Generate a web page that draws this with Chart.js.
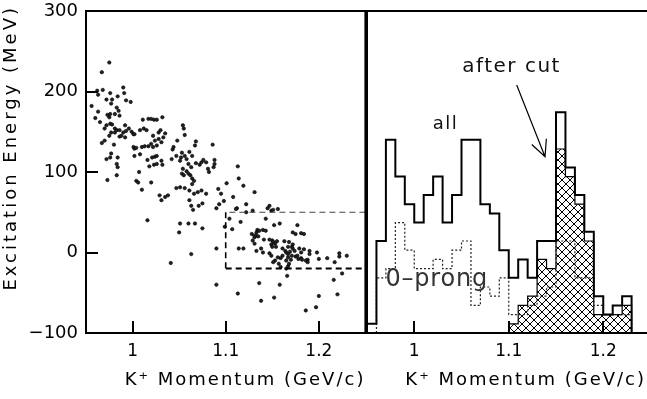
<!DOCTYPE html>
<html>
<head>
<meta charset="utf-8">
<script src="https://cdn.jsdelivr.net/npm/chart.js@4.4.1/dist/chart.umd.min.js"></script>
<style>
  html, body { margin: 0; padding: 0; background: #fff; overflow: hidden; }
  #wrap { position: relative; width: 647px; height: 399px; overflow: hidden; }
  #left { position: absolute; left: 0; top: 0; }
  #right { position: absolute; left: 366px; top: 0; }
</style>
</head>
<body>
<div id="wrap">
  <canvas id="left" width="370" height="399"></canvas>
  <canvas id="right" width="288" height="399"></canvas>
</div>
<script>
const FONT = "'DejaVu Sans', sans-serif";

// left panel: K+ momentum (GeV/c) vs excitation energy (MeV), one entry per event
const pMom = [
  0.975, 0.967, 0.962, 0.968, 0.990, 0.991, 0.976, 0.984, 0.956, 0.963,
  0.960, 0.965, 0.963, 0.978, 0.972, 0.977, 0.993, 0.998, 0.983, 0.985,
  0.981, 0.986, 0.973, 0.976, 0.975, 0.972, 0.970, 0.976, 0.978, 0.981,
  0.981, 0.983, 0.986, 0.977, 0.975, 0.992, 0.996, 0.990, 0.993, 0.999,
  1.001, 1.002, 0.986, 0.988, 0.992, 0.970, 0.967, 0.980, 0.972, 0.976,
  0.977, 0.984, 0.983, 0.984, 0.983, 0.973, 1.001, 1.002, 1.004, 1.002,
  1.008, 1.007, 1.004, 1.006, 1.010, 1.020, 1.011, 1.017, 1.020, 1.023,
  1.026, 1.032, 1.012, 1.008, 1.015, 1.010, 1.013, 1.017, 1.022, 1.024,
  1.028, 1.031, 1.033, 1.035, 1.028, 1.030, 1.020, 1.026, 1.022, 1.016,
  1.021, 1.024, 1.026, 1.018, 1.023, 1.026, 1.032, 1.031, 1.042, 1.044,
  1.043, 1.047, 1.051, 1.052, 1.053, 1.056, 1.058, 1.054, 1.055, 1.056,
  1.048, 1.068, 1.067, 1.061, 1.064, 1.068, 1.060, 1.063, 1.072, 1.074,
  1.076, 1.079, 1.086, 1.088, 1.088, 1.087, 1.081, 1.082, 1.054, 1.053,
  1.055, 1.058, 1.060, 1.062, 1.064, 1.066, 1.064, 1.047, 1.051, 1.056,
  1.061, 1.066, 1.070, 1.074, 1.079, 1.092, 1.095, 1.101, 1.108, 1.113,
  1.114, 1.119, 1.131, 1.038, 1.029, 1.035,
  1.031, 1.063, 1.065, 1.071, 1.075, 1.061, 1.090, 1.093, 1.098, 1.112,
  1.122, 1.129, 1.016, 1.051, 1.060, 1.067, 1.050, 1.075, 1.063, 1.041,
  1.090, 1.090, 1.099, 1.107, 1.104, 1.111, 1.116, 1.114, 1.119, 1.113,
  1.122, 1.133, 1.131, 1.129, 1.131, 1.133, 1.134, 1.136, 1.140, 1.143,
  1.143, 1.145, 1.147, 1.149, 1.151, 1.156, 1.136, 1.138, 1.152, 1.158,
  1.166, 1.186, 1.197, 1.200, 1.216, 1.220, 1.225, 1.217, 1.209, 1.200,
  1.198, 1.222, 1.222, 1.230, 1.190, 1.190, 1.188, 1.177, 1.172, 1.175,
  1.181, 1.184, 1.163, 1.168, 1.172, 1.167, 1.171, 1.179, 1.181, 1.184,
  1.161, 1.164, 1.165, 1.167, 1.169, 1.172, 1.174, 1.171, 1.175, 1.177,
  1.178, 1.181, 1.182, 1.186, 1.188, 1.167, 1.170, 1.165, 1.161, 1.159,
  1.156, 1.153, 1.151, 1.157, 1.159, 1.165, 1.167, 1.168, 1.150, 1.151,
  1.153, 1.155, 1.149, 1.150, 1.154, 1.147, 1.138, 1.140, 1.147, 1.149,
  1.128, 1.131, 1.133, 1.135, 1.152, 1.158, 1.141
];
const eExc = [
  236, 224, 201, 202, 205, 198, 198, 194, 182, 196,
  167, 162, 175, 190, 190, 185, 189, 187, 180, 176,
  172, 170, 171, 172, 168, 158, 154, 160, 159, 154,
  149, 152, 152, 149, 145, 158, 154, 149, 151, 150,
  147, 147, 144, 145, 143, 139, 136, 134, 116, 118,
  123, 118, 110, 106, 96, 90, 131, 129, 130, 120,
  122, 100, 89, 87, 78, 87, 165, 166, 166, 165,
  165, 168, 154, 152, 152, 131, 132, 132, 145, 139,
  141, 137, 143, 148, 149, 152, 135, 133, 131, 115,
  118, 119, 120, 107, 109, 110, 109, 114, 116, 131,
  128, 120, 114, 118, 124, 120, 116, 158, 154, 146,
  139, 138, 133, 125, 120, 111, 110, 106, 109, 112,
  115, 112, 134, 115, 110, 106, 104, 100, 104, 98,
  96, 101, 98, 96, 92, 89, 85, 80, 81, 80,
  77, 73, 75, 77, 73, 79, 73, 86, 69, 107,
  92, 83, 75, 71, 71, 69,
  65, 58, 53, 58, 61, 65, 55, 60, 64, 55,
  60, 52, 40, 36, 36, 36, 25, 30, -2, -13,
  5, -40, 32, 29, 42, 54, 38, 5, 5, -51,
  50, 2, 19, 15, 11, 25, 28, 27, 28, 27,
  42, 55, 58, 52, 53, 54, -38, -60, -56, -40,
  -29, -72, -68, -54, -34, -52, -26, -12, -7, -8,
  0, -1, -5, -4, 2, -2, -9, 34, 25, 23,
  24, 23, 14, 13, 10, 7, 7, 5, 0, 4,
  5, 2, 0, -2, 1, 5, 2, -4, -5, -4,
  -8, -7, -9, -10, -12, -6, -9, -10, -4, -7,
  -6, -10, -12, -14, -18, -20, -17, -14, 15, 13,
  11, 14, 10, 7, 7, 16, 5, 0, -1, -4,
  23, 21, 21, 20, 34, 36, 16
];

// right panel: histograms in 10 MeV/c bins
const binEdges = [
  0.95, 0.96, 0.97, 0.98, 0.99, 1.00, 1.01, 1.02, 1.03, 1.04,
  1.05, 1.06, 1.07, 1.08, 1.09, 1.10, 1.11, 1.12, 1.13, 1.14,
  1.15, 1.16, 1.17, 1.18, 1.19, 1.20, 1.21, 1.22, 1.23, 1.24, 1.25
];
const allCounts = [1, 10, 21, 17, 14, 12, 15, 17, 12, 15, 21, 21, 14, 13, 9, 6, 8, 6, 10, 10, 24, 18, 15, 11, 4, 2, 3, 4, 0, 0];
const zeroProngCounts = [0, 6, 7, 12, 9, 7, 7, 8, 7, 9, 10, 3, 5, 4, 6, 2, 2, 3, 4, 5, 10, 10, 6, 6, 3, 2, 2, 2, 0, 0];
const afterCutCounts = [0, 0, 0, 0, 0, 0, 0, 0, 0, 0, 0, 0, 0, 0, 0, 1, 3, 4, 8, 7, 20, 17, 14, 10, 2, 2, 2, 3, 0, 0];

const momTicks = [1, 1.1, 1.2];
const energyTicks = [-100, 0, 100, 200, 300];
const cutBox = { pMin: 1.10, eMin: -20, eMax: 50 };

let stepPoints = (counts) => {
  let first = counts.findIndex((c) => c > 0);
  let last = counts.length - 1;
  while (last > 0 && counts[last] === 0) last--;
  let pts = [{ x: binEdges[first], y: 0 }];
  for (let i = first; i <= last; i++) pts.push({ x: binEdges[i], y: counts[i] });
  pts.push({ x: binEdges[last + 1], y: 0 });
  return pts;
};

let hatchPattern = () => {
  const tile = document.createElement("canvas");
  tile.width = 8;
  tile.height = 8;
  const g = tile.getContext("2d");
  g.strokeStyle = "#000";
  g.lineWidth = 1;
  g.beginPath();
  g.moveTo(-1, -1); g.lineTo(9, 9);
  g.moveTo(9, -1); g.lineTo(-1, 9);
  g.stroke();
  return document.getElementById("right").getContext("2d").createPattern(tile, "repeat");
};

let spacedText = (ctx, str, x, y, size, spacing, align, rotate, color) => {
  ctx.save();
  ctx.translate(x, y);
  if (rotate) ctx.rotate(-Math.PI / 2);
  ctx.font = size + "px " + FONT;
  ctx.letterSpacing = spacing + "px";
  ctx.fillStyle = color || "#000";
  ctx.textAlign = align;
  ctx.textBaseline = "middle";
  ctx.fillText(str, 0, 0);
  ctx.restore();
};

let inwardTicks = (ctx, chart, withY) => {
  const a = chart.chartArea;
  const sx = chart.scales.x;
  ctx.save();
  ctx.strokeStyle = "#000";
  ctx.lineWidth = 2;
  ctx.beginPath();
  momTicks.forEach((v) => {
    let px = Math.round(sx.getPixelForValue(v));
    ctx.moveTo(px, a.bottom);
    ctx.lineTo(px, a.bottom - 12);
  });
  if (withY) {
    const sy = chart.scales.y;
    energyTicks.forEach((v) => {
      let py = Math.round(sy.getPixelForValue(v));
      ctx.moveTo(a.left, py);
      ctx.lineTo(a.left + 12, py);
    });
  }
  ctx.stroke();
  ctx.restore();
};

const leftDecor = {
  id: "leftDecor",
  afterDraw(chart) {
    const ctx = chart.ctx;
    const a = chart.chartArea;
    const sx = chart.scales.x;
    const sy = chart.scales.y;
    // dashed selection box
    let bx = sx.getPixelForValue(cutBox.pMin);
    let by0 = sy.getPixelForValue(cutBox.eMin);
    let by1 = sy.getPixelForValue(cutBox.eMax);
    ctx.save();
    ctx.setLineDash([6, 4]);
    ctx.strokeStyle = "#444";
    ctx.lineWidth = 1.2;
    ctx.beginPath();
    ctx.moveTo(a.right, by1);
    ctx.lineTo(bx, by1);
    ctx.stroke();
    ctx.strokeStyle = "#000";
    ctx.lineWidth = 1.6;
    ctx.beginPath();
    ctx.moveTo(bx, by1);
    ctx.lineTo(bx, by0);
    ctx.stroke();
    ctx.lineWidth = 2;
    ctx.beginPath();
    ctx.moveTo(bx, by0);
    ctx.lineTo(a.right, by0);
    ctx.stroke();
    ctx.restore();
    // frame
    ctx.save();
    ctx.strokeStyle = "#000";
    ctx.lineWidth = 2;
    ctx.strokeRect(a.left, a.top, a.right - a.left, a.bottom - a.top);
    ctx.restore();
    inwardTicks(ctx, chart, true);
    spacedText(ctx, "Excitation Energy (MeV)", 11, 5, 18, 3, "right", true);
    spacedText(ctx, "K\u207A Momentum (GeV/c)", a.right, 380, 18, 2, "right", false);
  },
};

const rightDecor = {
  id: "rightDecor",
  afterDraw(chart) {
    const ctx = chart.ctx;
    const a = chart.chartArea;
    const sx = chart.scales.x;
    const sy = chart.scales.y;
    ctx.save();
    ctx.strokeStyle = "#000";
    ctx.lineWidth = 2;
    ctx.beginPath();
    ctx.moveTo(a.right, a.top);
    ctx.lineTo(a.left, a.top);
    ctx.lineTo(a.left, a.bottom);
    ctx.lineTo(a.right, a.bottom);
    ctx.stroke();
    ctx.restore();
    inwardTicks(ctx, chart, false);

    // labels
    spacedText(ctx, "all", sx.getPixelForValue(1.033), sy.getPixelForValue(22.7), 18, 1.5, "center", false, "#111");
    spacedText(ctx, "after cut", sx.getPixelForValue(1.103), sy.getPixelForValue(28.9), 20, 1.5, "center", false, "#111");
    spacedText(ctx, "0\u2013prong", sx.getPixelForValue(1.0238), sy.getPixelForValue(5.8), 24, 0.8, "center", false, "#333");

    // arrow to the hatched peak
    let x0 = sx.getPixelForValue(1.1084), y0 = sy.getPixelForValue(26.96);
    let x1 = sx.getPixelForValue(1.1384), y1 = sy.getPixelForValue(19.16);
    let ang = Math.atan2(y1 - y0, x1 - x0);
    ctx.save();
    ctx.strokeStyle = "#000";
    ctx.lineWidth = 1.2;
    ctx.beginPath();
    ctx.moveTo(x0, y0);
    ctx.lineTo(x1, y1);
    ctx.moveTo(x1 - 18 * Math.cos(ang - 0.45), y1 - 18 * Math.sin(ang - 0.45));
    ctx.lineTo(x1, y1);
    ctx.lineTo(x1 - 18 * Math.cos(ang + 0.45), y1 - 18 * Math.sin(ang + 0.45));
    ctx.stroke();
    ctx.restore();
    spacedText(ctx, "K\u207A Momentum (GeV/c)", 280, 380, 18, 2, "right", false);
  },
};

let axisX = () => ({
  type: "linear",
  min: 0.95,
  max: 1.25,
  afterBuildTicks: (s) => { s.ticks = momTicks.map((v) => ({ value: v })); },
  afterFit: (s) => { s.height = 66; s.paddingLeft = 0; s.paddingRight = 0; },
  grid: { display: false, drawTicks: false },
  border: { display: false },
  ticks: { padding: 8, color: "#000", font: { family: FONT, size: 17 }, callback: (v) => String(v) },
});

(function () {
  new Chart(document.getElementById("left"), {
    type: "scatter",
    data: {
      datasets: [{
        data: pMom.map((p, i) => ({ x: p, y: eExc[i] })),
        pointRadius: 1.7,
        backgroundColor: "#222",
        borderColor: "#000",
        borderWidth: 0.6,
      }],
    },
    options: {
      responsive: false,
      animation: false,
      devicePixelRatio: 1,
      layout: { padding: { top: 11, right: 3, left: 0, bottom: 0 } },
      plugins: { legend: { display: false }, tooltip: { enabled: false } },
      scales: {
        x: axisX(),
        y: {
          min: -100,
          max: 300,
          afterBuildTicks: (s) => { s.ticks = energyTicks.map((v) => ({ value: v })); },
          afterFit: (s) => { s.width = 86; s.paddingTop = 0; s.paddingBottom = 0; },
          grid: { display: false, drawTicks: false },
          border: { display: false },
          ticks: { padding: 8, color: "#000", font: { family: FONT, size: 18 }, callback: (v) => String(v).replace("-", "\u2212") },
        },
      },
    },
    plugins: [leftDecor],
  });
})();

(function () {
  new Chart(document.getElementById("right"), {
    type: "scatter",
    data: {
      datasets: [
        {
          label: "all",
          data: stepPoints(allCounts),
          showLine: true,
          stepped: true,
          pointRadius: 0,
          borderColor: "#000",
          borderWidth: 2,
          fill: false,
          order: 0,
        },
        {
          label: "0-prong",
          data: stepPoints(zeroProngCounts),
          showLine: true,
          stepped: true,
          pointRadius: 0,
          borderColor: "#222",
          borderWidth: 1.2,
          borderDash: [2, 2],
          fill: false,
          order: 1,
        },
        {
          label: "after cut",
          data: stepPoints(afterCutCounts),
          showLine: true,
          stepped: true,
          pointRadius: 0,
          borderColor: "#000",
          borderWidth: 1.2,
          backgroundColor: hatchPattern(),
          fill: "origin",
          order: 2,
        },
      ],
    },
    options: {
      responsive: false,
      animation: false,
      devicePixelRatio: 1,
      layout: { padding: { top: 11, right: 3.5, left: 1, bottom: 0 } },
      plugins: { legend: { display: false }, tooltip: { enabled: false } },
      scales: {
        x: axisX(),
        y: { display: false, min: 0, max: 35 },
      },
    },
    plugins: [rightDecor],
  });
})();
</script>
</body>
</html>
